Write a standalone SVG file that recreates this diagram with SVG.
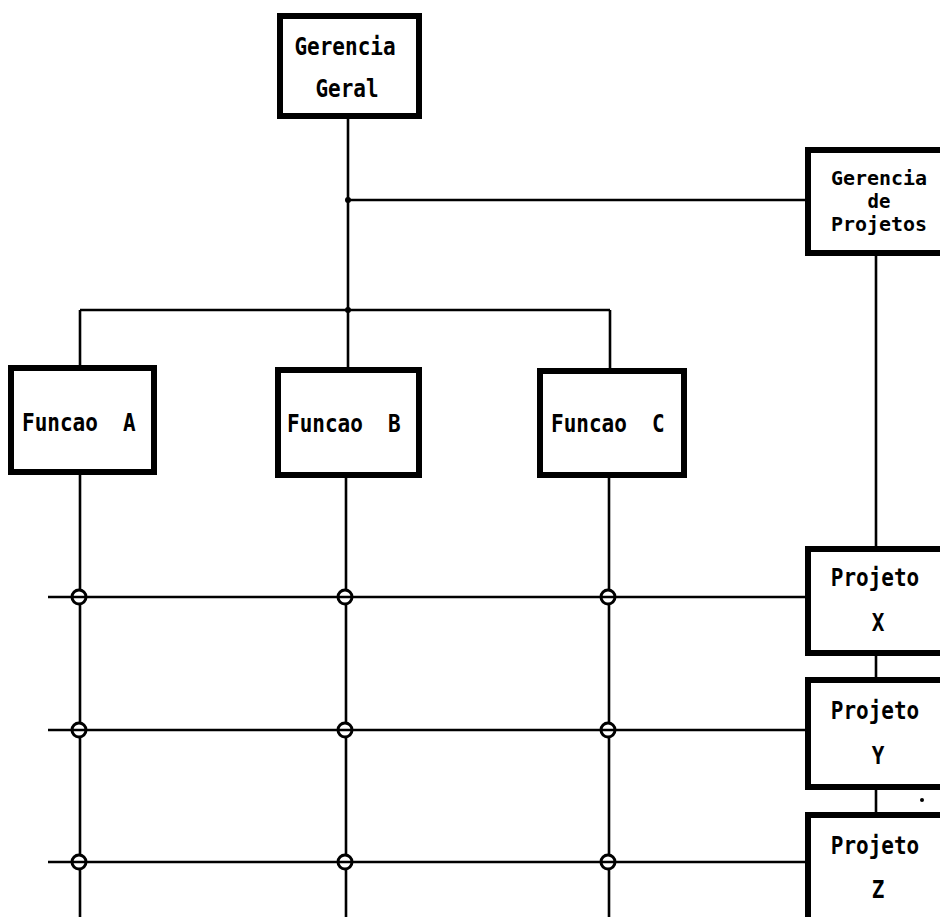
<svg xmlns="http://www.w3.org/2000/svg" width="940" height="917" viewBox="0 0 940 917">
  <style>
    .box { fill: #fff; stroke: #000; stroke-width: 6; }
    .ln { stroke: #000; stroke-width: 2.6; fill: none; }
    .ring { stroke: #000; stroke-width: 3; fill: #fff; }
    .dot { fill: #000; }
    text { font-family: "DejaVu Sans Mono", "Liberation Mono", monospace; font-weight: bold; font-size: 21px; fill: #000; white-space: pre; }
    .mid { text-anchor: middle; }
    .sm { font-size: 19px; }
  </style>
  <rect width="940" height="917" fill="#fff"/>

  <g id="connectors">
    <!-- main trunk -->
    <line class="ln" x1="348" y1="119" x2="348" y2="368"/>
    <line class="ln" x1="348" y1="200" x2="806" y2="200"/>
    <line class="ln" x1="80" y1="310" x2="610" y2="310"/>
    <line class="ln" x1="80" y1="310" x2="80" y2="366"/>
    <line class="ln" x1="610" y1="310" x2="610" y2="369"/>
    <circle class="dot" cx="348" cy="200" r="3"/>
    <circle class="dot" cx="348" cy="310" r="3"/>
    <!-- project chain -->
    <line class="ln" x1="876" y1="256" x2="876" y2="547"/>
    <line class="ln" x1="876" y1="656" x2="876" y2="678"/>
    <line class="ln" x1="876" y1="790" x2="876" y2="813"/>
    <!-- function columns -->
    <line class="ln" x1="80" y1="475" x2="80" y2="917"/>
    <line class="ln" x1="346" y1="478" x2="346" y2="917"/>
    <line class="ln" x1="609" y1="478" x2="609" y2="917"/>
    <!-- matrix crossings: rings hide the column, the row runs through -->
    <circle class="ring" cx="79" cy="597" r="7"/>
    <circle class="ring" cx="345" cy="597" r="7"/>
    <circle class="ring" cx="608" cy="597" r="7"/>
    <circle class="ring" cx="79" cy="730" r="7"/>
    <circle class="ring" cx="345" cy="730" r="7"/>
    <circle class="ring" cx="608" cy="730" r="7"/>
    <circle class="ring" cx="79" cy="862" r="7"/>
    <circle class="ring" cx="345" cy="862" r="7"/>
    <circle class="ring" cx="608" cy="862" r="7"/>
    <!-- project rows -->
    <line class="ln" x1="48" y1="597" x2="806" y2="597"/>
    <line class="ln" x1="48" y1="730" x2="806" y2="730"/>
    <line class="ln" x1="48" y1="862" x2="806" y2="862"/>
    <circle class="dot" cx="922" cy="800" r="2"/>
  </g>

  <g id="gerencia-geral">
    <rect class="box" x="280" y="16" width="139" height="100"/>
    <text class="mid" transform="translate(345 55) scale(1 1.2)">Gerencia</text>
    <text class="mid" transform="translate(347 97) scale(1 1.2)">Geral</text>
  </g>

  <g id="gerencia-projetos">
    <rect class="box" x="808" y="150" width="200" height="103"/>
    <text class="mid sm" x="879" y="185" textLength="96" lengthAdjust="spacingAndGlyphs">Gerencia</text>
    <text class="mid sm" x="879" y="208">de</text>
    <text class="mid sm" x="879" y="231" textLength="96" lengthAdjust="spacingAndGlyphs">Projetos</text>
  </g>

  <g id="funcao-a">
    <rect class="box" x="11" y="368" width="143" height="104"/>
    <text transform="translate(22 431) scale(1 1.2)">Funcao  A</text>
  </g>

  <g id="funcao-b">
    <rect class="box" x="278" y="370" width="141" height="105"/>
    <text transform="translate(287 432) scale(1 1.2)">Funcao  B</text>
  </g>

  <g id="funcao-c">
    <rect class="box" x="540" y="371" width="144" height="104"/>
    <text transform="translate(551 432) scale(1 1.2)">Funcao  C</text>
  </g>

  <g id="projeto-x">
    <rect class="box" x="808" y="549" width="200" height="104"/>
    <text class="mid" transform="translate(875 586) scale(1 1.2)">Projeto</text>
    <text class="mid" transform="translate(878 631) scale(1 1.2)">X</text>
  </g>

  <g id="projeto-y">
    <rect class="box" x="808" y="680" width="200" height="107"/>
    <text class="mid" transform="translate(875 719) scale(1 1.2)">Projeto</text>
    <text class="mid" transform="translate(878 764) scale(1 1.2)">Y</text>
  </g>

  <g id="projeto-z">
    <rect class="box" x="808" y="815" width="200" height="160"/>
    <text class="mid" transform="translate(875 854) scale(1 1.2)">Projeto</text>
    <text class="mid" transform="translate(878 898) scale(1 1.2)">Z</text>
  </g>
</svg>
